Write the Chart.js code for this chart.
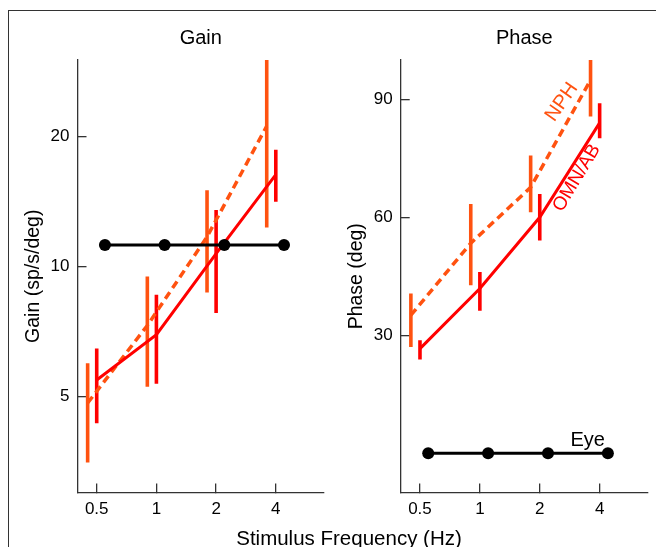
<!DOCTYPE html>
<html>
<head>
<meta charset="utf-8">
<script src="https://cdn.jsdelivr.net/npm/chart.js@4.4.1/dist/chart.umd.min.js"></script>
<style>
  html,body{margin:0;padding:0;background:#fff;}
  #wrap{position:relative;width:656px;height:547px;overflow:hidden;font-family:"Liberation Sans",Arial,sans-serif;}
  #frame{position:absolute;left:8px;top:10px;width:700px;height:600px;border-left:1px solid #333;border-top:1px solid #333;}
  .box{position:absolute;top:0;height:547px;}
  #gainBox{left:0;width:330px;}
  #phaseBox{left:330px;width:326px;}
  #xtitle{position:absolute;left:0;width:698px;top:526px;text-align:center;font-size:20.5px;line-height:24px;color:#000;}
</style>
</head>
<body>
<div id="wrap">
  <div id="frame"></div>
  <div class="box" id="gainBox"><canvas id="gain"></canvas></div>
  <div class="box" id="phaseBox"><canvas id="phase"></canvas></div>
  <div id="xtitle">Stimulus Frequency (Hz)</div>
</div>
<script>
// stimulus frequencies (Hz) and tick labels
const freqs = [0.5, 1, 2, 4];
const xTicks = [0.5, 1, 2, 4];
const gainTicks = [5, 10, 20];
const phaseTicks = [30, 60, 90];

// gain (sp/s/deg)
const gainOmn   = [5.46, 6.95, 10.7, 16.3];
const gainOmnLo = [4.34, 5.35, 7.8, 14.1];
const gainOmnHi = [6.46, 8.6, 13.5, 18.6];
const gainNph   = [4.83, 7.3, 11.7, 21.1];
const gainNphLo = [3.52, 5.27, 8.7, 12.3];
const gainNphHi = [5.97, 9.47, 15.0, 32];
const gainEye   = [11.2, 11.2, 11.2, 11.2];

// phase (deg)
const phaseOmn   = [26.6, 41.9, 60.0, 84.0];
const phaseOmnLo = [23.8, 36.2, 54.1, 80.1];
const phaseOmnHi = [28.7, 46.1, 65.9, 89.0];
const phaseNph   = [35.1, 53.4, 67.6, 94.9];
const phaseNphLo = [27.0, 42.7, 61.3, 85.6];
const phaseNphHi = [40.6, 63.4, 75.7, 104];
const phaseEye   = [0, 0, 0, 0];

// horizontal offsets so the groups don't overlap
const NPH_SHIFT = 0.9, EYE_SHIFT = 1.1;
const RED = "#ff0000", ORANGE = "#ff5210", BLACK = "#000";
const FONT = '"Liberation Sans", Arial, sans-serif';
Chart.defaults.font.family = FONT;

const errorBars = {
  id: "errorBars",
  beforeDatasetsDraw(chart){
    const {ctx, chartArea:a, scales:{y}} = chart;
    ctx.save();
    ctx.beginPath(); ctx.rect(a.left, a.top, a.right-a.left, a.bottom-a.top); ctx.clip();
    chart.data.datasets.forEach((ds, di) => {
      if(!ds.errLo) return;
      const meta = chart.getDatasetMeta(di);
      ctx.strokeStyle = ds.borderColor; ctx.lineWidth = 3.6; ctx.lineCap = "butt";
      meta.data.forEach((pt, i) => {
        ctx.beginPath();
        ctx.moveTo(pt.x, y.getPixelForValue(ds.errLo[i]));
        ctx.lineTo(pt.x, y.getPixelForValue(ds.errHi[i]));
        ctx.stroke();
      });
    });
    ctx.restore();
  }
};

const notes = {
  id: "notes",
  afterDatasetsDraw(chart, args, opts){
    const {ctx, scales:{x, y}} = chart;
    (opts.items || []).forEach(n => {
      ctx.save();
      ctx.translate(x.getPixelForValue(n.x), y.getPixelForValue(n.y));
      ctx.rotate((n.angle || 0) * Math.PI / 180);
      ctx.font = `${n.size || 20}px ${FONT}`;
      ctx.fillStyle = n.color; ctx.textAlign = "center"; ctx.textBaseline = "middle";
      ctx.fillText(n.text, 0, 0);
      ctx.restore();
    });
  }
};

function pts(vals, shift){ return freqs.map((f, i) => ({x: f * shift, y: vals[i]})); }

function datasets(eye, omn, omnLo, omnHi, nph, nphLo, nphHi){
  return [
    {label:"Eye", data: pts(eye, EYE_SHIFT), borderColor: BLACK, backgroundColor: BLACK, borderWidth: 3, pointRadius: 6, pointBorderWidth: 0},
    {label:"OMN/AB", data: pts(omn, 1), borderColor: RED, borderWidth: 3, pointRadius: 0, errLo: omnLo, errHi: omnHi},
    {label:"NPH", data: pts(nph, NPH_SHIFT), borderColor: ORANGE, borderWidth: 3.5, borderDash:[8,5], pointRadius: 0, errLo: nphLo, errHi: nphHi},
  ];
}

function xAxis(){
  return {
    type:"logarithmic", min:0.4, max:7,
    afterBuildTicks: s => { s.ticks = xTicks.map(v => ({value:v})); },
    afterFit: s => { s.height = 54.5; },
    ticks:{callback: v => String(v), color:"#000", font:{size:17}, padding:15.8, maxRotation:0, autoSkip:false},
    grid:{drawOnChartArea:false, drawTicks:true, tickLength:-9, color:"#333", lineWidth:1.3},
    border:{color:"#333", width:1.3}
  };
}

function yAxis(type, min, max, tickVals, width, title, titlePad){
  return {
    type, min, max,
    afterBuildTicks: s => { s.ticks = tickVals.map(v => ({value:v})); },
    afterFit: s => { s.width = width; },
    ticks:{callback: v => String(v), color:"#000", font:{size:17}, padding:17, autoSkip:false},
    grid:{drawOnChartArea:false, drawTicks:true, tickLength:-9, color:"#333", lineWidth:1.3},
    border:{color:"#333", width:1.3},
    title:{display:true, text:title, color:"#000", font:{size:19.5}, padding:{top:titlePad, bottom:0}}
  };
}

function makeChart(id, title, ds, y, padRight, items){
  return new Chart(document.getElementById(id), {
    type:"line",
    data:{datasets: ds},
    options:{
      responsive:true, maintainAspectRatio:false, animation:false,
      layout:{padding:{top:0, left:0, right:padRight, bottom:0}},
      plugins:{
        legend:{display:false}, tooltip:{enabled:false},
        title:{display:true, text:title, color:"#000", font:{size:20, weight:"normal"}, padding:{top:26.8, bottom:9.2}, fullSize:false},
        notes:{items}
      },
      scales:{x: xAxis(), y}
    },
    plugins:[errorBars, notes]
  });
}

makeChart("gain", "Gain",
  datasets(gainEye, gainOmn, gainOmnLo, gainOmnHi, gainNph, gainNphLo, gainNphHi),
  yAxis("logarithmic", 3, 30, gainTicks, 77.5, "Gain (sp/s/deg)", 22.3), 4, []);

makeChart("phase", "Phase",
  datasets(phaseEye, phaseOmn, phaseOmnLo, phaseOmnHi, phaseNph, phaseNphLo, phaseNphHi),
  yAxis("linear", -10, 100, phaseTicks, 70.7, "Phase (deg)", 15.3), 8, [
    {text:"NPH", x:2.58, y:89.3, angle:-55, color:ORANGE},
    {text:"OMN/AB", x:3.07, y:70, angle:-59, color:RED, size:19},
    {text:"Eye", x:3.48, y:3.3, color:BLACK}
  ]);
</script>
</body>
</html>
